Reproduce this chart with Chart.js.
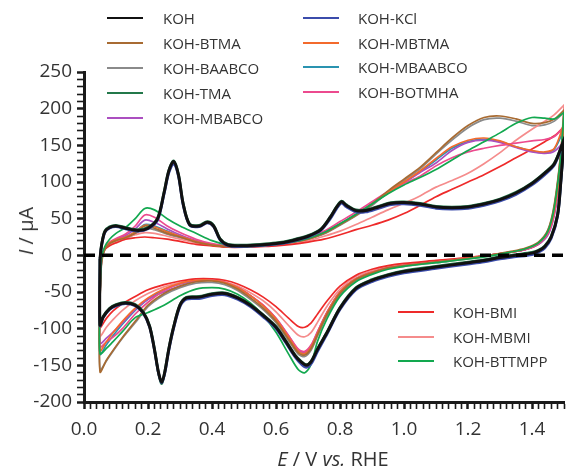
<!DOCTYPE html>
<html>
<head>
<meta charset="utf-8">
<script src="https://cdn.jsdelivr.net/npm/chart.js@4.4.1/dist/chart.umd.min.js"></script>
<style>
html,body{margin:0;padding:0;background:#fff;}
#wrap{position:relative;width:577px;height:470px;font-family:"Open Sans",sans-serif;color:#333;overflow:hidden;}
#c{position:absolute;left:0;top:0;}
.li{position:absolute;height:0;border-top:2.5px solid #000;}
.lt{position:absolute;font-size:15px;line-height:18px;white-space:nowrap;color:#333;}
#xt{position:absolute;left:333px;top:449px;transform:translateX(-50%);font-size:20px;line-height:20px;white-space:nowrap;}
#yt{position:absolute;left:26px;top:231px;transform:translate(-50%,-50%) rotate(-90deg);font-size:20px;line-height:20px;white-space:nowrap;}
</style>
</head>
<body>
<div id="wrap">
<canvas id="c" width="577" height="470"></canvas>
<div id="xt"><i>E</i> / V <i>vs.</i> RHE</div>
<div id="yt"><i>I</i> / μA</div>
</div>
<script>
// ---- potential grids (V vs RHE) ----
const E_K_fwd = [0.05,0.055,0.065,0.08,0.10,0.13,0.17,0.20,0.23,0.25,0.265,0.28,0.295,0.31,0.33,0.36,0.385,0.405,0.425,0.45,0.50,0.55,0.60,0.65,0.70,0.74,0.77,0.79,0.805,0.82,0.85,0.88,0.92,0.96,1.00,1.05,1.10,1.15,1.20,1.25,1.30,1.35,1.40,1.44,1.47,1.50];
const E_K_rev = [1.50,1.49,1.48,1.46,1.44,1.42,1.40,1.35,1.30,1.25,1.20,1.10,1.00,0.95,0.90,0.85,0.80,0.76,0.73,0.71,0.695,0.68,0.66,0.63,0.60,0.56,0.52,0.48,0.44,0.40,0.36,0.32,0.30,0.28,0.265,0.253,0.243,0.233,0.22,0.205,0.185,0.16,0.13,0.10,0.08,0.06,0.05];
const E_fwd = [0.05,0.055,0.065,0.08,0.10,0.13,0.16,0.19,0.22,0.26,0.30,0.35,0.40,0.45,0.50,0.55,0.60,0.65,0.70,0.75,0.80,0.85,0.90,0.95,1.00,1.05,1.10,1.15,1.20,1.25,1.30,1.35,1.40,1.44,1.47,1.50];
const E_rev = [1.50,1.49,1.47,1.45,1.42,1.38,1.33,1.28,1.20,1.10,1.00,0.95,0.90,0.85,0.80,0.76,0.73,0.71,0.69,0.67,0.64,0.60,0.56,0.52,0.48,0.44,0.40,0.35,0.30,0.25,0.20,0.16,0.12,0.09,0.07,0.05];

// ---- currents (µA) ----
const I_KOH_fwd = [-5,14,32,38,40,37,34,37,50,85,115,128,110,70,42,40,45,40,22,14,13,14,16,20,26,35,52,66,73,68,61,61,66,71,72,70,66,65,66,70,76,85,98,112,125,158];
const I_KOH_rev = [158,100,55,25,12,6,3,0,-3,-7,-10,-16,-22,-27,-34,-45,-72,-105,-128,-145,-150,-146,-137,-117,-98,-82,-68,-58,-52,-53,-57,-58,-68,-98,-128,-158,-173,-160,-128,-97,-78,-68,-65,-68,-73,-84,-95];
const I_KCl_fwd = [-5,13,31,37,39,36,33,36,48,83,112,125,108,68,41,39,44,39,21,13,12,13,15,19,25,34,50,64,71,66,59,59,64,69,70,68,64,63,64,68,74,83,96,110,123,155];
const I_KCl_rev = [155,98,53,23,10,4,1,-2,-5,-9,-12,-18,-24,-29,-36,-47,-74,-107,-131,-148,-153,-149,-139,-119,-100,-84,-70,-60,-54,-55,-59,-60,-70,-100,-130,-160,-174,-161,-129,-98,-79,-69,-66,-69,-74,-85,-96];
const I_TMA_fwd = [-5,15,33,39,41,38,35,38,51,86,116,129,111,71,43,41,46,41,23,15,14,15,17,21,27,36,53,67,74,69,62,62,67,72,73,71,67,66,67,71,77,86,99,113,126,158];
const I_TMA_rev = [158,101,56,26,13,7,4,1,-2,-6,-9,-15,-21,-26,-33,-44,-71,-104,-127,-144,-149,-145,-136,-116,-97,-81,-67,-57,-51,-52,-56,-57,-67,-97,-127,-157,-175,-161,-127,-96,-77,-67,-64,-67,-72,-83,-94];

const I_BTMA_fwd = [-60,-10,8,16,20,24,30,40,37,30,25,18,14,12,12,13,15,18,22,30,42,55,70,88,104,120,140,160,177,188,190,186,180,181,186,198];
const I_BTMA_rev = [198,140,70,35,18,10,5,1,-4,-9,-14,-17,-24,-33,-52,-80,-108,-127,-136,-133,-115,-90,-72,-58,-46,-38,-35,-36,-42,-52,-68,-90,-112,-130,-143,-159];
const I_BAABCO_fwd = [-58,-8,8,15,19,23,29,37,35,29,24,18,14,12,12,13,15,18,22,29,41,54,68,86,102,118,138,157,174,185,187,183,177,178,183,195];
const I_BAABCO_rev = [195,138,68,34,17,9,4,0,-5,-10,-15,-18,-25,-34,-54,-82,-110,-129,-138,-135,-117,-92,-74,-60,-48,-40,-37,-38,-44,-54,-70,-92,-113,-131,-144,-156];
const I_MBABCO_fwd = [-55,-6,9,17,22,27,36,48,45,36,28,20,15,12,12,13,15,18,23,31,43,56,71,86,99,113,126,143,154,157,154,147,141,139,142,155];
const I_MBABCO_rev = [155,110,55,28,15,8,4,1,-4,-9,-14,-17,-23,-32,-50,-77,-104,-123,-132,-129,-110,-86,-68,-55,-44,-37,-34,-35,-42,-50,-60,-74,-92,-105,-113,-120];
const I_MBTMA_fwd = [-55,-6,9,17,21,25,32,41,39,32,26,19,14,12,12,13,15,18,22,30,42,55,70,86,100,115,132,148,157,160,156,148,143,141,146,180];
const I_MBTMA_rev = [180,125,62,32,17,9,4,1,-4,-9,-14,-17,-23,-32,-50,-78,-106,-125,-134,-131,-112,-87,-69,-55,-44,-37,-34,-34,-38,-46,-58,-72,-90,-106,-118,-130];
const I_MBAABCO_fwd = [-56,-7,9,17,21,25,32,42,40,33,26,19,14,12,12,13,15,18,22,30,42,55,70,85,99,114,130,146,155,158,155,148,142,140,145,172];
const I_MBAABCO_rev = [172,120,60,30,16,8,4,1,-4,-9,-14,-17,-23,-32,-50,-78,-106,-125,-134,-131,-112,-87,-69,-55,-44,-37,-34,-35,-39,-47,-60,-75,-94,-110,-122,-135];
const I_BOTMHA_fwd = [-50,-4,10,18,23,29,40,55,52,40,31,22,16,13,12,13,15,19,25,33,46,59,73,87,98,108,122,133,141,146,150,153,156,158,162,176];
const I_BOTMHA_rev = [176,120,58,30,16,8,4,1,-4,-9,-14,-17,-23,-32,-50,-77,-104,-122,-131,-128,-110,-86,-68,-55,-44,-37,-34,-34,-39,-48,-64,-80,-100,-112,-118,-125];
const I_BMI_fwd = [-45,-2,8,13,17,22,24,25,24,22,19,15,13,11,11,12,13,15,18,22,28,35,41,48,57,68,80,90,100,110,121,133,145,155,163,175];
const I_BMI_rev = [175,120,60,30,15,8,4,1,-3,-7,-11,-14,-19,-27,-42,-62,-80,-92,-98,-97,-86,-70,-57,-47,-39,-34,-32,-32,-35,-40,-47,-56,-66,-76,-86,-98];
const I_MBMI_fwd = [-48,-3,9,15,19,24,28,31,30,26,22,17,14,12,12,13,14,16,20,26,33,42,52,62,71,81,93,102,112,125,140,157,172,183,192,205];
const I_MBMI_rev = [205,140,65,32,16,8,4,1,-3,-8,-12,-15,-21,-29,-46,-69,-91,-105,-111,-109,-96,-77,-62,-51,-42,-36,-33,-33,-37,-43,-52,-62,-75,-88,-98,-110];
const I_BTTMPP_fwd = [-52,-3,12,22,30,38,50,64,62,50,40,30,20,14,12,13,15,18,23,31,43,56,70,84,96,106,117,130,143,155,167,180,188,187,186,195];
const I_BTTMPP_rev = [195,135,66,33,17,9,4,0,-5,-10,-15,-19,-26,-36,-56,-86,-117,-148,-160,-156,-135,-105,-82,-65,-53,-46,-44,-46,-55,-68,-78,-85,-104,-118,-127,-134];

// ---- axis ticks ----
const xRange = [0, 1.5];
const yRange = [-200, 250];
const xMajor = 0.2, xMinor = 0.02;
const yMajor = 50, yMinor = 10;
const zeroLevel = 0;

// ---- series definitions ----
const series = [
  {label:'KOH',         color:'#111111', w:3.0, ef:E_K_fwd, f:I_KOH_fwd, er:E_K_rev, r:I_KOH_rev, order:1},
  {label:'KOH-BTMA',    color:'#a86b32', w:1.7, ef:E_fwd, f:I_BTMA_fwd, er:E_rev, r:I_BTMA_rev, order:5},
  {label:'KOH-BAABCO',  color:'#8a8a8a', w:1.7, ef:E_fwd, f:I_BAABCO_fwd, er:E_rev, r:I_BAABCO_rev, order:12},
  {label:'KOH-TMA',     color:'#23784a', w:2.6, ef:E_K_fwd, f:I_TMA_fwd, er:E_K_rev, r:I_TMA_rev, order:3},
  {label:'KOH-MBABCO',  color:'#ab4fc0', w:1.7, ef:E_fwd, f:I_MBABCO_fwd, er:E_rev, r:I_MBABCO_rev, order:8},
  {label:'KOH-KCl',     color:'#3b4cab', w:2.6, ef:E_K_fwd, f:I_KCl_fwd, er:E_K_rev, r:I_KCl_rev, order:2},
  {label:'KOH-MBTMA',   color:'#f36a2c', w:1.7, ef:E_fwd, f:I_MBTMA_fwd, er:E_rev, r:I_MBTMA_rev, order:6},
  {label:'KOH-MBAABCO', color:'#2a93b0', w:1.7, ef:E_fwd, f:I_MBAABCO_fwd, er:E_rev, r:I_MBAABCO_rev, order:11},
  {label:'KOH-BOTMHA',  color:'#ec4a8e', w:1.7, ef:E_fwd, f:I_BOTMHA_fwd, er:E_rev, r:I_BOTMHA_rev, order:7},
  {label:'KOH-BMI',     color:'#ee2a2a', w:1.7, ef:E_fwd, f:I_BMI_fwd, er:E_rev, r:I_BMI_rev, order:9},
  {label:'KOH-MBMI',    color:'#f58c8c', w:1.7, ef:E_fwd, f:I_MBMI_fwd, er:E_rev, r:I_MBMI_rev, order:10},
  {label:'KOH-BTTMPP',  color:'#12a84f', w:1.7, ef:E_fwd, f:I_BTTMPP_fwd, er:E_rev, r:I_BTTMPP_rev, order:4}
];

// legend layout (which labels in which block)
const legendBlocks = [
  {labels:['KOH','KOH-BTMA','KOH-BAABCO','KOH-TMA','KOH-MBABCO'], lineX:107, textX:163, y0:18, dy:24.9},
  {labels:['KOH-KCl','KOH-MBTMA','KOH-MBAABCO','KOH-BOTMHA'], lineX:303, textX:358, y0:18, dy:24.6},
  {labels:['KOH-BMI','KOH-MBMI','KOH-BTTMPP'], lineX:398, textX:453, y0:312, dy:24.5}
];

function loop(ef, f, er, r) {
  const pts = [];
  for (let k = 0; k < ef.length; k++) pts.push({x: ef[k], y: f[k]});
  for (let k = 0; k < er.length; k++) pts.push({x: er[k], y: r[k]});
  pts.push(pts[0]);
  return pts;
}

const datasets = series.map(s => ({
  label: s.label, data: loop(s.ef, s.f, s.er, s.r),
  borderColor: s.color, borderWidth: s.w, showLine: true, fill: false,
  pointRadius: 0, tension: 0.3, order: s.order, xAxisID: 'x', yAxisID: 'y'
}));
datasets.push({
  label: 'zero', data: [{x: xRange[0], y: zeroLevel}, {x: xRange[1], y: zeroLevel}],
  borderColor: '#000', borderWidth: 3.5, borderDash: [11, 7], showLine: true,
  pointRadius: 0, order: 0, xAxisID: 'x', yAxisID: 'y'
});

const tickFont = {family: '"Open Sans", sans-serif', size: 19};
const isMajor = (v, step) => Math.abs(v / step - Math.round(v / step)) < 1e-6;

new Chart(document.getElementById('c'), {
  type: 'scatter',
  data: {datasets},
  options: {
    responsive: false, animation: false,
    layout: {padding: {left: 0, top: 72, right: 13, bottom: 0}},
    plugins: {legend: {display: false}, tooltip: {enabled: false}},
    scales: {
      x: {
        type: 'linear', position: 'bottom', min: xRange[0], max: xRange[1],
        border: {display: true, color: '#1a1a1a', width: 3},
        grid: {
          drawOnChartArea: false, drawTicks: true, tickLength: 7,
          tickColor: '#1a1a1a',
          tickWidth: c => isMajor(c.tick.value, xMajor) ? 2.5 : 1.6
        },
        ticks: {stepSize: xMinor, maxTicksLimit: 200, autoSkip: false, includeBounds: false, color: '#333', font: tickFont, padding: 9,
                maxRotation: 0, minRotation: 0,
                callback: v => isMajor(v, xMajor) && v < xRange[1] ? v.toFixed(1) : ''},
        afterFit: s => { s.height = 68; }
      },
      y: {
        type: 'linear', position: 'left', min: yRange[0], max: yRange[1],
        border: {display: true, color: '#1a1a1a', width: 3},
        grid: {
          drawOnChartArea: false, drawTicks: true, tickLength: 7,
          tickColor: '#1a1a1a',
          tickWidth: c => isMajor(c.tick.value, yMajor) ? 2.5 : 1.6
        },
        ticks: {stepSize: yMinor, maxTicksLimit: 200, autoSkip: false, color: '#333', font: tickFont, padding: 5,
                callback: v => isMajor(v, yMajor) ? String(v) : ''},
        afterFit: s => { s.width = 84; }
      }
    }
  }
});

// HTML legend built from dataset labels/colours
const wrap = document.getElementById('wrap');
legendBlocks.forEach(b => {
  b.labels.forEach((lab, i) => {
    const ds = series.find(s => s.label === lab);
    const y = b.y0 + i * b.dy;
    const line = document.createElement('div');
    line.className = 'li';
    line.style.left = b.lineX + 'px';
    line.style.width = '36px';
    line.style.top = (y - 1) + 'px';
    line.style.borderTopColor = ds.color;
    wrap.appendChild(line);
    const t = document.createElement('div');
    t.className = 'lt';
    t.style.left = b.textX + 'px';
    t.style.top = (y - 9) + 'px';
    t.textContent = lab;
    wrap.appendChild(t);
  });
});
</script>
</body>
</html>
